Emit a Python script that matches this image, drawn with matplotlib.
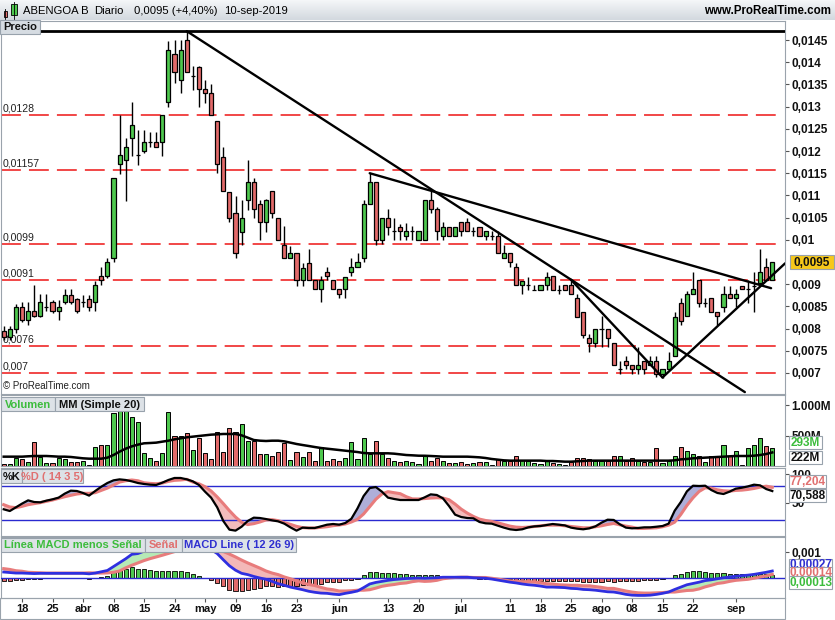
import numpy as np
import pandas as pd
import matplotlib.pyplot as plt
from matplotlib.patches import Rectangle
from matplotlib.colors import LinearSegmentedColormap

plt.rcParams['font.family'] = ['Liberation Sans', 'DejaVu Sans']

# ---------------- data (prices in units of 0.0001, volume in millions) ----------------
start_day, end_day = '2019-03-13', '2019-09-10'
holidays = ['2019-04-19', '2019-04-22', '2019-05-01']

open_ = [79.5, 78.0, 80.0, 84.8, 81.9, 83.9, 82.8, 84.8, 86.0, 83.9,
         86.0, 87.6, 86.7, 86.0, 86.7, 86.0, 91.8, 91.8, 95.9, 117.1,
         117.9, 122.9, 119.0, 120.1, 122.0, 122.0, 122.0, 131.0, 141.9, 135.9,
         144.9, 137.0, 139.0, 133.9, 133.0, 126.8, 118.7, 110.8, 106.0, 101.8,
         109.0, 113.0, 108.0, 103.9, 110.9, 104.8, 98.8, 95.8, 97.0, 91.0,
         94.8, 91.0, 88.9, 92.8, 91.0, 88.9, 88.9, 92.8, 93.8, 95.8,
         108.0, 113.0, 100.0, 104.8, 102.0, 102.8, 100.9, 102.0, 100.0, 100.0,
         109.0, 106.9, 100.9, 102.8, 100.9, 104.0, 104.0, 102.0, 102.8, 100.9,
         100.9, 100.9, 95.8, 97.0, 93.8, 89.8, 89.8, 88.8, 88.8, 89.8,
         91.8, 88.8, 89.8, 89.8, 86.8, 83.8, 77.8, 76.8, 79.8, 79.8,
         76.8, 70.8, 72.8, 71.8, 70.8, 72.8, 71.8, 72.8, 69.8, 70.8,
         73.8, 85.8, 82.8, 87.8, 91.0, 85.8, 86.8, 83.8, 84.8, 87.8,
         86.8, 89.5, 88.9, 89.5, 90.2, 93.8, 91.0]
high = [80.5, 80.5, 85.5, 86.0, 86.1, 89.9, 87.8, 87.8, 86.5, 86.5,
        88.9, 88.9, 87.0, 87.6, 87.6, 90.7, 93.8, 95.9, 113.9, 128.0,
        122.9, 131.0, 124.8, 124.8, 124.2, 124.2, 128.0, 144.7, 144.9, 144.9,
        147.0, 139.1, 139.1, 136.0, 135.1, 126.8, 120.8, 110.8, 109.9, 109.0,
        118.0, 113.9, 109.0, 109.2, 110.9, 104.8, 103.0, 98.6, 97.0, 94.7,
        97.9, 91.0, 91.9, 93.8, 91.0, 88.9, 91.7, 95.8, 97.1, 109.0,
        115.0, 113.0, 104.8, 106.9, 104.8, 103.5, 103.7, 103.0, 102.0, 109.0,
        111.2, 107.5, 104.1, 102.8, 102.8, 104.1, 104.8, 102.8, 102.8, 102.0,
        102.0, 101.9, 98.8, 97.0, 94.8, 90.8, 91.7, 89.8, 89.8, 92.8,
        91.8, 89.8, 89.8, 91.0, 87.8, 83.8, 78.7, 79.8, 82.8, 79.8,
        76.8, 72.8, 73.8, 71.8, 75.8, 72.8, 73.8, 73.8, 70.8, 74.8,
        83.8, 86.8, 88.5, 92.8, 91.0, 86.8, 86.8, 83.8, 89.5, 89.5,
        89.0, 89.5, 91.0, 92.8, 97.9, 95.8, 95.0]
low = [77.5, 77.5, 79.0, 81.5, 80.7, 82.5, 82.5, 83.9, 83.5, 81.9,
       85.5, 85.5, 83.5, 84.8, 83.9, 83.9, 89.8, 91.5, 94.9, 114.9,
       108.8, 118.8, 116.9, 119.5, 120.9, 120.9, 118.8, 129.8, 135.3, 133.1,
       137.9, 133.8, 129.8, 130.9, 128.1, 115.0, 111.0, 103.9, 95.8, 98.8,
       106.7, 104.8, 100.0, 101.8, 104.8, 100.0, 95.8, 95.8, 89.7, 89.7,
       91.0, 88.9, 86.0, 91.0, 88.9, 86.8, 86.8, 91.8, 93.8, 95.1,
       108.0, 98.8, 99.0, 101.1, 100.0, 100.0, 100.0, 100.0, 100.0, 100.0,
       106.0, 100.0, 100.0, 100.9, 100.9, 100.9, 102.0, 100.9, 100.9, 100.0,
       100.0, 97.0, 95.8, 93.8, 89.8, 87.8, 88.8, 88.8, 88.8, 88.8,
       88.8, 87.8, 88.8, 87.8, 82.7, 77.8, 74.8, 75.8, 75.8, 75.8,
       71.8, 69.8, 70.8, 69.8, 69.8, 69.8, 71.8, 69.2, 68.8, 70.8,
       73.8, 80.8, 82.8, 87.8, 84.8, 84.8, 83.8, 80.8, 83.8, 86.8,
       84.8, 88.9, 85.8, 83.8, 89.5, 91.0, 91.0]
close = [78.0, 80.0, 84.8, 81.9, 83.9, 82.8, 86.0, 84.8, 83.9, 84.8,
         87.6, 86.0, 83.9, 86.0, 84.8, 89.8, 90.9, 94.9, 113.9, 119.0,
         120.9, 125.9, 119.0, 122.0, 122.0, 120.9, 128.0, 142.8, 137.9, 142.8,
         137.9, 137.0, 133.9, 133.0, 128.1, 117.0, 111.0, 104.8, 97.0, 104.8,
         113.0, 106.9, 103.9, 109.0, 106.0, 100.0, 95.8, 97.0, 91.0, 93.7,
         91.0, 88.9, 91.0, 91.8, 88.9, 87.7, 91.7, 93.8, 95.1, 108.0,
         113.0, 100.0, 104.8, 102.8, 102.0, 102.0, 102.0, 102.0, 102.0, 109.0,
         106.9, 102.0, 102.8, 100.9, 102.8, 102.0, 102.0, 102.0, 100.9, 102.0,
         100.9, 97.0, 97.0, 94.9, 89.8, 90.8, 89.8, 88.8, 89.8, 91.7,
         88.8, 88.8, 88.8, 87.8, 82.7, 78.6, 76.8, 79.8, 79.8, 77.8,
         71.8, 70.8, 71.8, 70.8, 71.8, 70.8, 72.8, 69.8, 70.8, 72.8,
         82.7, 81.8, 87.8, 88.9, 85.8, 85.8, 83.8, 82.8, 87.8, 86.8,
         87.8, 88.9, 88.9, 89.5, 92.8, 91.0, 95.0]

volume = [33, 33, 126, 110, 60, 388, 153, 44, 44, 126,
          110, 60, 60, 88, 16, 306, 339, 339, 863, 907,
          907, 798, 727, 208, 126, 88, 208, 880, 500, 492,
          546, 262, 464, 218, 109, 563, 235, 617, 563, 683,
          410, 415, 191, 191, 164, 235, 372, 98, 235, 142,
          235, 82, 306, 82, 109, 82, 126, 388, 109, 464,
          191, 415, 191, 126, 82, 60, 88, 60, 33, 164,
          88, 137, 82, 44, 55, 71, 33, 55, 71, 71,
          16, 115, 82, 82, 164, 99, 88, 55, 33, 93,
          55, 27, 16, 71, 126, 126, 109, 82, 82, 82,
          164, 164, 82, 137, 82, 71, 71, 290, 55, 82,
          164, 306, 251, 197, 169, 71, 164, 164, 344, 169,
          246, 16, 290, 344, 454, 328, 293]
volume_ma = [153, 153, 153, 153, 159, 164, 164, 164, 159, 153,
             153, 148, 137, 126, 120, 120, 120, 137, 180, 235,
             284, 322, 350, 372, 377, 383, 399, 415, 437, 454,
             470, 481, 492, 503, 514, 519, 525, 525, 525, 503,
             465, 426, 415, 410, 415, 415, 404, 383, 361, 344,
             328, 311, 295, 284, 273, 262, 251, 240, 229, 213,
             208, 208, 208, 208, 202, 191, 180, 175, 169, 168,
             164, 159, 153, 153, 153, 153, 153, 148, 142, 131,
             115, 104, 93, 88, 88, 88, 88, 88, 88, 82,
             82, 77, 71, 71, 77, 82, 88, 88, 88, 88,
             88, 88, 88, 88, 88, 88, 88, 88, 88, 88,
             93, 109, 115, 126, 131, 137, 142, 148, 153, 159,
             164, 164, 164, 169, 180, 197, 222]

stoch_k = [39.0, 36.0, 42.4, 48.8, 54.5, 51.6, 51.1, 54.0, 56.3, 59.2,
           66.1, 71.3, 70.7, 67.3, 62.7, 70.7, 78.2, 84.6, 89.2, 90.9,
           89.8, 87.5, 84.6, 82.9, 81.7, 81.2, 85.2, 89.8, 93.3, 93.3,
           91.0, 87.5, 81.2, 69.6, 59.2, 42.4, 18.7, 3.7, 2.0, 8.8,
           18.7, 24.5, 23.9, 22.1, 19.8, 18.1, 14.1, 7.7, 2.0, 7.2,
           6.6, 6.6, 9.4, 12.3, 13.5, 12.3, 15.2, 22.7, 40.6, 62.0,
           75.8, 77.6, 69.6, 59.2, 56.9, 55.1, 55.1, 55.1, 55.1, 59.7,
           64.9, 63.8, 58.0, 44.7, 29.7, 25.6, 23.9, 23.3, 17.0, 14.7,
           14.1, 10.6, 7.2, 4.3, 3.1, 4.3, 7.7, 9.4, 10.0, 11.7,
           13.5, 12.3, 11.1, 7.2, 5.4, 4.3, 6.0, 9.4, 15.8, 21.0,
           20.5, 13.0, 7.2, 6.0, 6.6, 7.7, 7.7, 8.8, 10.0, 14.1,
           36.6, 51.6, 70.1, 79.9, 79.4, 79.9, 72.4, 67.3, 65.5, 69.6,
           74.7, 76.4, 78.7, 81.7, 80.5, 74.1, 70.588]
stoch_d = [47.0, 43.0, 41.8, 44.1, 47.0, 48.8, 50.5, 52.8, 55.1, 58.0,
           60.8, 63.2, 65.5, 66.7, 66.7, 67.8, 71.8, 75.8, 81.0, 86.2,
           88.5, 89.8, 88.5, 85.0, 83.9, 83.3, 84.5, 87.4, 89.2, 89.8,
           91.0, 86.2, 83.3, 78.2, 70.7, 60.4, 48.8, 36.7, 25.6, 16.5,
           12.5, 14.1, 17.0, 20.5, 21.0, 19.3, 15.8, 12.9, 9.4, 7.2,
           6.6, 6.6, 7.7, 8.8, 10.6, 11.7, 13.5, 17.0, 21.6, 30.9,
           43.5, 56.3, 65.5, 69.6, 67.8, 66.1, 60.8, 57.0, 56.9, 57.6,
           58.5, 59.0, 58.5, 55.6, 48.0, 39.3, 32.4, 26.6, 22.0, 19.6,
           17.9, 15.6, 12.7, 9.8, 8.1, 7.5, 8.1, 9.2, 10.4, 11.5,
           11.5, 11.5, 10.4, 9.2, 8.1, 6.9, 6.9, 8.7, 10.4, 12.7,
           14.4, 12.1, 9.8, 8.1, 5.8, 5.8, 6.4, 6.9, 8.7, 11.5,
           16.7, 30.0, 45.6, 58.9, 69.9, 76.2, 75.7, 72.8, 71.1, 70.5,
           71.7, 72.2, 73.4, 75.1, 77.4, 79.1, 77.204]

# MACD and signal in units of 0.0001
macd = [2.3, 2.1, 1.9, 1.9, 1.8, 1.7, 1.8, 1.8, 1.8, 1.8,
        1.8, 1.8, 1.8, 1.8, 1.6, 1.9, 2.4, 2.9, 4.4, 5.9,
        7.4, 9.1, 9.4, 10.3, 10.45, 10.7, 11.35, 12.25, 12.95, 13.65,
        13.6, 13.5, 12.9, 12.0, 10.9, 9.4, 7.0, 4.7, 3.0, 1.8,
        1.3, 0.6, 0.0, -0.5, -1.3, -2.2, -2.8, -3.5, -4.0, -4.5,
        -5.1, -5.5, -5.8, -5.9, -6.2, -6.4, -5.9, -5.5, -5.0, -3.7,
        -2.3, -1.7, -1.3, -0.9, -0.6, -0.4, -0.2, -0.1, 0.0, -0.1,
        0.0, 0.1, 0.3, 0.3, 0.3, 0.3, 0.3, 0.1, 0.0, -0.1,
        -0.4, -0.8, -1.2, -1.6, -1.9, -2.3, -2.6, -2.8, -3.1, -3.5,
        -3.5, -3.6, -3.7, -4.0, -4.1, -4.4, -4.5, -4.7, -5.0, -5.3,
        -5.4, -5.8, -6.3, -6.6, -6.7, -6.7, -6.6, -6.3, -5.9, -5.4,
        -4.4, -3.5, -2.6, -2.1, -1.6, -1.0, -0.7, -0.3, 0.1, 0.4,
        0.7, 0.9, 1.1, 1.4, 1.8, 2.2, 2.7]
signal = [3.6, 3.3, 2.8, 2.6, 2.2, 2.1, 2.0, 1.9, 1.9, 1.9,
          1.9, 1.9, 1.9, 1.9, 2.0, 1.9, 1.9, 1.95, 2.2, 2.7,
          3.9, 4.9, 5.8, 6.7, 7.45, 8.1, 8.75, 9.45, 10.15, 10.85,
          11.4, 11.8, 12.0, 12.0, 11.8, 11.3, 10.2, 9.2, 8.1, 6.9,
          5.8, 4.8, 3.8, 2.7, 1.9, 1.3, 0.4, -0.3, -1.1, -1.9,
          -2.5, -2.9, -3.6, -4.2, -4.5, -5.0, -5.0, -4.9, -4.7, -4.7,
          -4.5, -3.9, -3.2, -2.8, -2.5, -2.1, -1.9, -1.4, -1.1, -1.3,
          -1.2, -0.9, -0.3, 0.0, 0.2, 0.3, 0.3, 0.2, 0.2, 0.2,
          -0.1, -0.4, -0.8, -1.1, -1.3, -1.4, -1.4, -1.5, -1.8, -2.2,
          -2.3, -2.6, -2.7, -2.8, -2.8, -3.0, -3.0, -3.3, -3.6, -4.0,
          -4.0, -4.5, -5.0, -5.4, -5.7, -5.8, -5.8, -5.7, -5.6, -5.4,
          -5.4, -5.1, -4.8, -4.7, -4.2, -3.4, -2.8, -2.1, -1.8, -1.3,
          -0.9, -0.7, -0.5, -0.1, 0.4, 0.8, 1.4]

# support / resistance levels and trend lines (x = trading-day index)
levels = [128.0, 115.7, 99.0, 91.0, 76.0, 70.0]
level_labels = ['0,0128', '0,01157', '0,0099', '0,0091', '0,0076', '0,007']
top_line = 147.0
trend_x = [(30, 121.5), (60, 125.8), (93, 108), (108, 128.1)]
trend_y = [(147.0, 65.7), (115.0, 89.1), (91.0, 69.0), (69.0, 94.7)]

tick_dates = ['2019-03-18', '2019-03-25', '2019-04-01', '2019-04-08', '2019-04-15',
              '2019-04-24', '2019-05-02', '2019-05-09', '2019-05-16', '2019-05-23',
              '2019-06-03', '2019-06-13', '2019-06-20', '2019-07-01', '2019-07-11',
              '2019-07-18', '2019-07-25', '2019-08-01', '2019-08-08', '2019-08-15',
              '2019-08-22', '2019-09-02']
tick_labels = ['18', '25', 'abr', '08', '15', '24', 'may', '09', '16', '23', 'jun',
               '13', '20', 'jul', '11', '18', '25', 'ago', '08', '15', '22', 'sep']

# ---------------- figure ----------------
W, H = 835, 620
fig = plt.figure(figsize=(W / 100, H / 100), dpi=100, facecolor='white')


def fx(x):
    return x / W


def fy(y):
    return 1 - y / H


def axes_px(x0, y0, x1, y1):
    return fig.add_axes([fx(x0), fy(y1), (x1 - x0) / W, (y1 - y0) / H])


_z = [10]


def box(x0, x1, y0, y1, text, color, fc='#dde2e7', size=8, weight='bold'):
    # each new box sits above the previous ones, like stacked labels
    _z[0] += 2
    fig.add_artist(Rectangle((fx(x0), fy(y1)), (x1 - x0) / W, (y1 - y0) / H,
                             transform=fig.transFigure, fc=fc, ec='#98a2ac', lw=0.8,
                             zorder=_z[0]))
    fig.text(fx((x0 + x1) / 2), fy((y0 + y1) / 2 + 0.5), text, color=color,
             ha='center', va='center', fontsize=size, fontweight=weight,
             zorder=_z[0] + 1)


GREEN, RED, FRAME = '#4ec84e', '#e26a6a', '#9aa3ac'
days = pd.bdate_range(start_day, end_day).drop(pd.to_datetime(holidays))
x = np.arange(len(days))
xlim = ((1 - 3.7) / 6.1, (785 - 3.7) / 6.1)

o = np.array(open_) / 1e4
h = np.array(high) / 1e4
l = np.array(low) / 1e4
c = np.array(close) / 1e4
up = c >= o
colors = np.where(up, GREEN, RED)

# title bar
ax_t = fig.add_axes([0, fy(20), 1, 20 / H])
ax_t.imshow(np.linspace(0, 1, 20)[:, None], aspect='auto', extent=(0, W, 20, 0),
            cmap=LinearSegmentedColormap.from_list('bar', ['#f4f6f8', '#d3d9df']))
ax_t.add_patch(Rectangle((3.5, 11), 3.8, 6, fc=RED, ec='black', lw=0.6))
ax_t.plot([5.4, 5.4], [9, 19], color='black', lw=0.6)
ax_t.add_patch(Rectangle((11, 4), 5.5, 11, fc=GREEN, ec='black', lw=0.6))
ax_t.plot([13.7, 13.7], [2, 19], color='black', lw=0.6)
ax_t.set_xlim(0, W)
ax_t.set_ylim(20, 0)
ax_t.axis('off')
for tx, s in [(23, 'ABENGOA B'), (94, 'Diario'), (134, '0,0095 (+4,40%)'), (224, '10-sep-2019')]:
    fig.text(fx(tx), fy(10.5), s, fontsize=8.1, va='center')
fig.text(fx(831), fy(10.5), 'www.ProRealTime.com', fontsize=8.3, fontweight='bold',
         ha='right', va='center')

# ---- price panel ----
ax_p = axes_px(1, 21, 785, 394)
ax_p.vlines(x, l, h, color='black', lw=1.0, zorder=3)
ax_p.bar(x, np.maximum(np.abs(c - o), 2e-7), bottom=np.minimum(o, c), width=0.66,
         color=colors, edgecolor='black', linewidth=0.9, zorder=4)
for lvl, lab in zip(levels, level_labels):
    ax_p.plot([xlim[0], 126.8], [lvl / 1e4, lvl / 1e4], color='#ee1515', lw=1.1,
              dashes=(13, 5.3), zorder=2)
    ax_p.annotate(lab, xy=(0, lvl / 1e4), xycoords=('axes fraction', 'data'),
                  xytext=(1.5, 1.2), textcoords='offset points', fontsize=7.6,
                  color='#222222', va='bottom')
ax_p.axhline(top_line / 1e4, color='black', lw=2.0, zorder=5)
for (xa, xb), (ya, yb) in zip(trend_x, trend_y):
    ax_p.plot([xa, xb], [ya / 1e4, yb / 1e4], color='black', lw=1.7, zorder=6,
              solid_capstyle='round')
ax_p.text(0.003, 0.008, '\u00a9 ProRealTime.com', transform=ax_p.transAxes,
          fontsize=7, va='bottom', color='#222222')
ax_p.set_xlim(*xlim)
ax_p.set_ylim(0.006527, 0.014928)
pt = [v for v in range(70, 146, 5) if v != 95]
ax_p.yaxis.tick_right()
ax_p.set_yticks(np.array(pt) / 1e4)
ax_p.set_yticklabels([f'{v / 1e4:.4f}'.rstrip('0').replace('.', ',') for v in pt],
                     fontweight='bold')
ax_p.set_xticks([])

# ---- volume panel ----
ax_v = axes_px(1, 395, 785, 466)
ax_v.bar(x, volume, width=0.66, color=colors, edgecolor='black', linewidth=0.7)
ax_v.plot(x, volume_ma, color='black', lw=1.8)
ax_v.set_xlim(*xlim)
ax_v.set_ylim(0, 1164)
ax_v.yaxis.tick_right()
ax_v.set_yticks([500, 1000])
ax_v.set_yticklabels(['500M', '1.000M'], fontweight='bold')
ax_v.set_xticks([])

# ---- stochastic panel ----
ax_s = axes_px(1, 468, 785, 536)
k = np.array(stoch_k)
d = np.array(stoch_d)
ax_s.fill_between(x, k, d, where=k >= d, interpolate=True, color='#aeaed8', lw=0)
ax_s.fill_between(x, k, d, where=k < d, interpolate=True, color='#f3bcbc', lw=0)
ax_s.axhline(80, color='#2a2ad0', lw=1.0)
ax_s.axhline(20, color='#2a2ad0', lw=1.0)
ax_s.plot(x, d, color='#e87c7c', lw=2.2)
ax_s.plot(x, k, color='black', lw=1.6)
ax_s.set_xlim(*xlim)
ax_s.set_ylim(-7.3, 110.6)
ax_s.yaxis.tick_right()
ax_s.set_yticks([50, 100])
ax_s.set_yticklabels(['50', '100'], fontweight='bold')
ax_s.set_xticks([])

# ---- MACD panel ----
ax_m = axes_px(1, 537, 785, 598)
m = np.array(macd) / 1e4
sg = np.array(signal) / 1e4
hist = m - sg
ax_m.fill_between(x, m, sg, where=m >= sg, interpolate=True, color='#b6eab6', lw=0)
ax_m.fill_between(x, m, sg, where=m < sg, interpolate=True, color='#f3b8b8', lw=0)
ax_m.bar(x, hist, width=0.66, color=np.where(hist >= 0, GREEN, RED),
         edgecolor='black', linewidth=0.6, zorder=3)
ax_m.axhline(0, color='#2a2ad0', lw=1.0, zorder=4)
ax_m.plot(x, sg, color='#e87c7c', lw=2.2, zorder=5)
ax_m.plot(x, m, color='#2f2fe0', lw=2.0, zorder=6)
ax_m.set_xlim(*xlim)
ax_m.set_ylim(-0.000769, 0.001577)
ax_m.yaxis.tick_right()
ax_m.set_yticks([0.001])
ax_m.set_yticklabels(['0,001'], fontweight='bold')
tick_pos = [days.get_loc(pd.Timestamp(t)) for t in tick_dates]
ax_m.set_xticks(tick_pos)
ax_m.set_xticklabels(tick_labels, fontweight='bold')

for ax in (ax_p, ax_v, ax_s, ax_m):
    for sp in ax.spines.values():
        sp.set_color(FRAME)
    ax.tick_params(axis='y', length=3, width=0.8, pad=1.5, labelsize=8.5,
                   color='#555555', labelcolor='#111111')
    ax.tick_params(axis='x', length=3, width=0.8, pad=1, labelsize=8,
                   color='#555555', labelcolor='#111111')

fig.add_artist(Rectangle((fx(0), fy(619)), 785 / W, 21 / H, transform=fig.transFigure,
                         fill=False, ec=FRAME, lw=0.8))

# panel titles
box(0, 40, 20, 34, 'Precio', '#111111', fc='#d6dce2')
box(1, 55, 397, 411, 'Volumen', '#3cbc3c')
box(55, 144, 397, 411, 'MM (Simple 20)', '#111111')
box(1, 22, 469, 483, '%K', '#111111')
box(22, 83, 469, 483, '%D ( 14 3 5)', '#e07070')
box(1, 145, 538, 552, 'Línea MACD menos Señal', '#3cbc3c')
box(145, 182, 538, 552, 'Señal', '#e07070')
box(182, 296, 538, 552, 'MACD Line ( 12 26 9)', '#2f2fd0')

# last-value boxes on the right
box(790, 834, 255, 269, '0,0095', '#111111', fc='#f6c81a', size=8.5)
box(789, 822, 436, 449, '293M', '#3cbc3c', fc='white', size=8.5)
box(789, 822, 451, 464, '222M', '#111111', fc='white', size=8.5)
box(789, 826, 475, 488, '77,204', '#e07070', fc='white', size=8.5)
box(789, 826, 489, 502, '70,588', '#111111', fc='white', size=8.5)
box(789, 832, 559, 571, '0,00027', '#2f2fd0', fc='white', size=8.5)
box(789, 832, 567, 578, '0,00014', '#e07070', fc='white', size=8.5)
box(789, 832, 576, 589, '0,00013', '#3cbc3c', fc='white', size=8.5)

fig.savefig('out.png', dpi=100, facecolor='white')
